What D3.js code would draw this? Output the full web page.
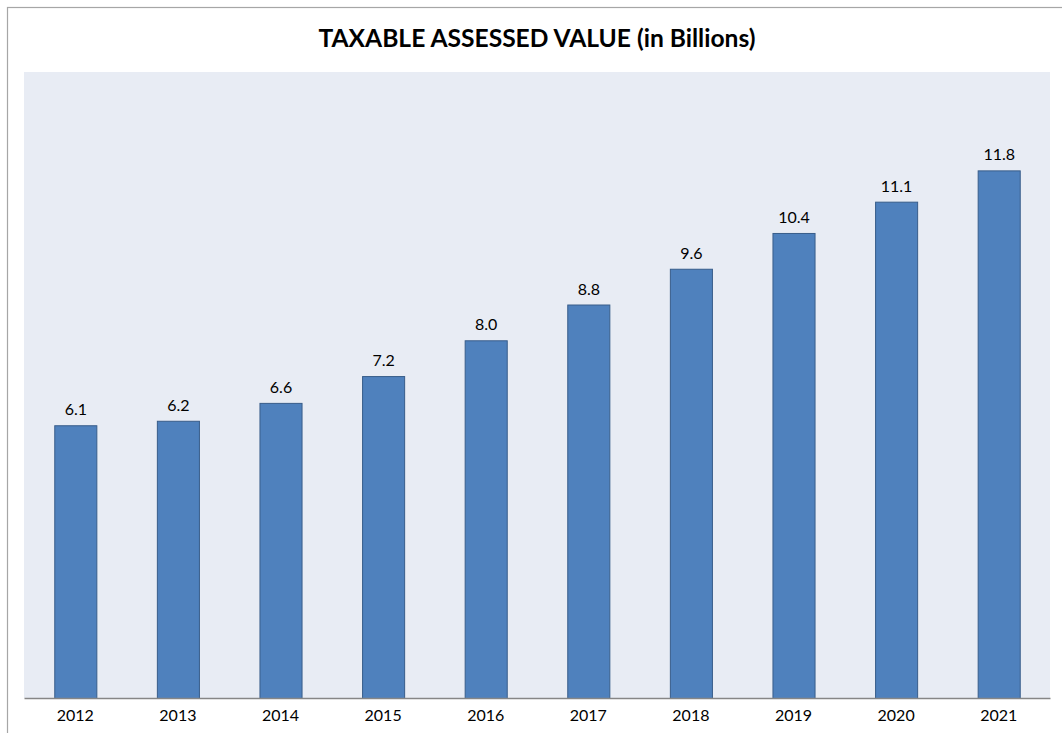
<!DOCTYPE html>
<html>
<head>
<meta charset="utf-8">
<script src="https://cdn.jsdelivr.net/npm/d3@7"></script>
<style>
  html, body { margin: 0; padding: 0; background: #fff; }
  svg { display: block; }
</style>
</head>
<body>
<svg id="chart" width="1062" height="733"></svg>
<script>
// Taxable assessed value by year, in billions
const years = ["2012", "2013", "2014", "2015", "2016", "2017", "2018", "2019", "2020", "2021"];
const values = [6.1, 6.2, 6.6, 7.2, 8.0, 8.8, 9.6, 10.4, 11.1, 11.8];
const titleText = "TAXABLE ASSESSED VALUE (in Billions)";

const svg = d3.select("#chart");
const W = 1062, H = 733;
const plot = { left: 24, right: 1050, top: 72, bottom: 698 };
const fontFamily = "Lato, 'Open Sans', 'Liberation Sans', sans-serif";

// Outer frame
svg.append("rect")
  .attr("x", 7.5).attr("y", 7.5)
  .attr("width", W).attr("height", H)
  .attr("fill", "#fff")
  .attr("stroke", "#a6a6a6")
  .attr("stroke-width", 1.2);

// Plot background
svg.append("rect")
  .attr("x", plot.left).attr("y", plot.top)
  .attr("width", plot.right - plot.left)
  .attr("height", plot.bottom - plot.top)
  .attr("fill", "#e8ecf4");

const x = d3.scaleBand()
  .domain(years)
  .range([plot.left, plot.right])
  .paddingInner(0.59)
  .paddingOuter(0.295);

const y = d3.scaleLinear()
  .domain([0, 14])
  .range([plot.bottom, plot.top]);

const data = years.map((yr, i) => ({ year: yr, value: values[i] }));

// Bars
svg.append("g").selectAll("rect")
  .data(data)
  .join("rect")
  .attr("x", d => x(d.year) + 0.5)
  .attr("y", d => y(d.value) + 0.5)
  .attr("width", x.bandwidth())
  .attr("height", d => y(0) - y(d.value))
  .attr("fill", "#4f81bd")
  .attr("stroke", "#385d8a")
  .attr("stroke-width", 1);

// Value labels
svg.append("g").selectAll("text")
  .data(data)
  .join("text")
  .attr("x", d => x(d.year) + x.bandwidth() / 2 + 0.5)
  .attr("y", d => y(d.value) - 10)
  .attr("text-anchor", "middle")
  .attr("font-family", fontFamily)
  .attr("font-size", 16)
  .attr("fill", "#000")
  .text(d => d.value.toFixed(1));

// Category axis
const xAxis = svg.append("g")
  .attr("transform", `translate(0,${plot.bottom})`)
  .call(d3.axisBottom(x).tickSize(0).tickPadding(12));
xAxis.select(".domain").attr("stroke", "#868686").attr("stroke-width", 1.3);
xAxis.selectAll("text")
  .attr("font-family", fontFamily)
  .attr("font-size", 16)
  .attr("fill", "#000");

// Title
svg.append("text")
  .attr("x", 537)
  .attr("y", 47)
  .attr("text-anchor", "middle")
  .attr("font-family", fontFamily)
  .attr("font-weight", "bold")
  .attr("font-size", 24.6)
  .attr("fill", "#000")
  .text(titleText);
</script>
</body>
</html>
